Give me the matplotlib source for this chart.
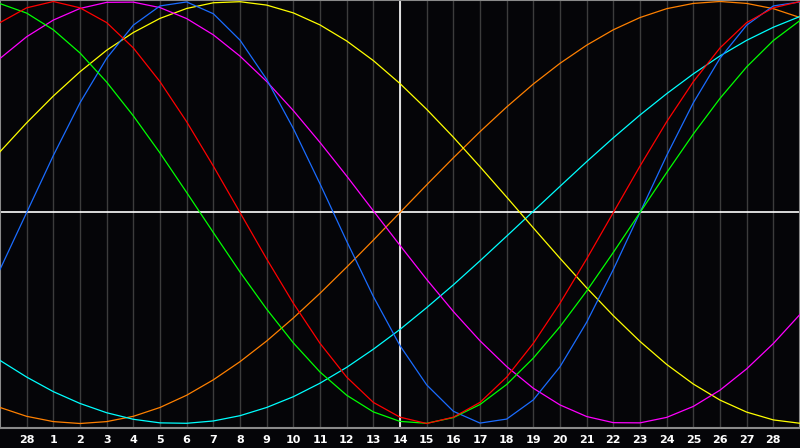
import matplotlib
matplotlib.use("Agg")
from matplotlib import pyplot as plt
import numpy as np

# day index -1 .. 29 (edges of the window), labels sit on 0 .. 28
days = list(range(-1, 30))
tick_pos = list(range(0, 29))
tick_labels = ["28"] + [str(d) for d in range(1, 29)]
today = 14

red = [0.90, 0.97, 1.00, 0.97, 0.90, 0.78, 0.62, 0.43, 0.22, 0.00, -0.22,
       -0.43, -0.62, -0.78, -0.90, -0.97, -1.00, -0.97, -0.90, -0.78, -0.62,
       -0.43, -0.22, 0.00, 0.22, 0.43, 0.62, 0.78, 0.90, 0.97, 1.00]
green = [0.99, 0.945, 0.866, 0.756, 0.618, 0.458, 0.282, 0.095, -0.095,
         -0.282, -0.458, -0.618, -0.756, -0.866, -0.945, -0.99, -0.999,
         -0.972, -0.91, -0.815, -0.69, -0.541, -0.372, -0.189, 0.0, 0.189,
         0.372, 0.541, 0.69, 0.815, 0.91]
blue = [-0.27, 0.0, 0.27, 0.52, 0.731, 0.888, 0.979, 0.998, 0.942, 0.817,
        0.631, 0.398, 0.136, -0.136, -0.398, -0.631, -0.817, -0.942, -0.998,
        -0.979, -0.888, -0.731, -0.52, -0.27, 0.0, 0.27, 0.52, 0.731, 0.888,
        0.979, 0.998]
magenta = [0.73, 0.833, 0.912, 0.967, 0.996, 0.997, 0.971, 0.919, 0.842,
           0.741, 0.621, 0.483, 0.332, 0.173, 0.008, -0.156, -0.317, -0.469,
           -0.608, -0.73, -0.833, -0.912, -0.967, -0.996, -0.997, -0.971,
           -0.919, -0.842, -0.741, -0.621, -0.483]
yellow = [0.288, 0.425, 0.552, 0.667, 0.769, 0.853, 0.92, 0.967, 0.994, 0.999,
          0.983, 0.946, 0.889, 0.813, 0.72, 0.611, 0.489, 0.357, 0.217, 0.073,
          -0.073, -0.217, -0.357, -0.489, -0.611, -0.72, -0.813, -0.889,
          -0.946, -0.983, -0.999]
orange = [-0.924, -0.966, -0.991, -1.0, -0.991, -0.966, -0.924, -0.866,
          -0.793, -0.707, -0.609, -0.5, -0.383, -0.259, -0.131, 0.0, 0.131,
          0.259, 0.383, 0.5, 0.609, 0.707, 0.793, 0.866, 0.924, 0.966, 0.991,
          1.0, 0.991, 0.966, 0.924]
cyan = [-0.701, -0.78, -0.849, -0.905, -0.949, -0.98, -0.997, -0.999, -0.988,
        -0.963, -0.924, -0.873, -0.809, -0.734, -0.648, -0.554, -0.451,
        -0.343, -0.229, -0.112, 0.006, 0.124, 0.241, 0.354, 0.462, 0.563,
        0.657, 0.742, 0.816, 0.878, 0.929]

series = [
    (orange, "#ff8000"),
    (cyan, "#00ffff"),
    (yellow, "#ffff00"),
    (magenta, "#ff00ff"),
    (blue, "#1a6cff"),
    (green, "#00ff00"),
    (red, "#ff0000"),
]

bg = "#050508"
fig = plt.figure(figsize=(8, 4.48), dpi=100, facecolor=bg)
ax = fig.add_axes([0, 20 / 448, 1, 428 / 448])
ax.set_facecolor(bg)

for x in tick_pos:
    ax.axvline(x, color="#3c3c3c", lw=1, zorder=1)
ax.axhline(0, color="white", lw=1.2, zorder=2)
ax.axvline(today, color="white", lw=1.2, zorder=2)

for vals, col in series:
    ax.plot(days, vals, color=col, lw=0.9, zorder=3)

ax.set_xlim(-1, 29)
ax.set_ylim(-1 - 4.5 / 211, 1 + 1.5 / 211)
ax.set_yticks([])
ax.set_xticks(tick_pos)
ax.set_xticklabels(tick_labels, color="white", fontsize=8, fontweight="bold")
ax.tick_params(axis="x", length=0, pad=5)
for s in ax.spines.values():
    s.set_color("#8a8a8a")
    s.set_linewidth(1.5)

fig.savefig("out.png", dpi=100, facecolor=bg)
